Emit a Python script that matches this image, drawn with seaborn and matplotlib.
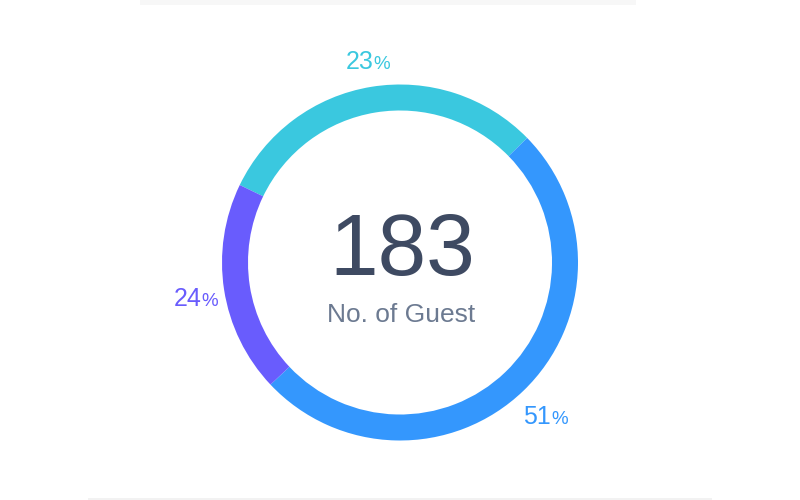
import seaborn as sns
from matplotlib import pyplot as plt
from matplotlib.patches import Rectangle
import numpy as np

# slice shares as drawn on the ring (clockwise from the cyan one)
arc_shares = [30.5, 50.3, 19.2]
# percentages printed next to each slice
pct_labels = [23, 51, 24]
slice_colors = ['#3ac8df', '#3497fd', '#695cfd']
total_guests = 183
center_caption = 'No. of Guest'


def plot_guest_donut():
    """
    Draws the guest-count donut with percentage labels around the ring
    """
    sns.set_theme(style='white')
    plt.rcParams['font.family'] = ['Liberation Sans', 'DejaVu Sans']

    fig = plt.figure(figsize=(8, 5), dpi=100)
    ax = fig.add_axes([0, 0, 1, 1])

    # faint card edges at top and bottom
    fig.add_artist(Rectangle((0.175, 0.99), 0.62, 0.01, transform=fig.transFigure,
                             color='#f7f7f7', lw=0, zorder=0))
    fig.add_artist(Rectangle((0.11, 0.0), 0.78, 0.005, transform=fig.transFigure,
                             color='#f2f2f2', lw=0, zorder=0))

    center = (0.0, -0.125)
    radius = 1.78
    wedges, _ = ax.pie(arc_shares, colors=sns.color_palette(slice_colors),
                       startangle=154.2, counterclock=False, radius=radius,
                       center=center, wedgeprops=dict(width=0.26, linewidth=0))

    ax.set_xlim(-4, 4)
    ax.set_ylim(-2.5, 2.5)
    ax.set_aspect('equal')
    ax.axis('off')

    # percentage labels at the middle of every wedge
    label_r = 2.08
    for wedge, pct, color in zip(wedges, pct_labels, slice_colors):
        mid = np.deg2rad((wedge.theta1 + wedge.theta2) / 2)
        x = center[0] + label_r * np.cos(mid)
        y = center[1] + label_r * np.sin(mid) - 0.05
        num = ax.text(x - 0.07, y, str(pct), color=color, fontsize=18,
                      ha='center', va='center')
        ax.annotate('%', xy=(1, 0), xycoords=num, xytext=(0.3, 1),
                    textcoords='offset points', color=color, fontsize=13.5,
                    ha='left', va='bottom')

    # center text
    ax.text(center[0] + 0.02, center[1] + 0.105, str(total_guests), color='#3e4a62',
            fontsize=63, ha='center', va='center')
    ax.text(center[0] + 0.01, center[1] - 0.52, center_caption, color='#6c7a91',
            fontsize=19, ha='center', va='center')

    fig.savefig('out.png', dpi=100, facecolor='white')


plot_guest_donut()
